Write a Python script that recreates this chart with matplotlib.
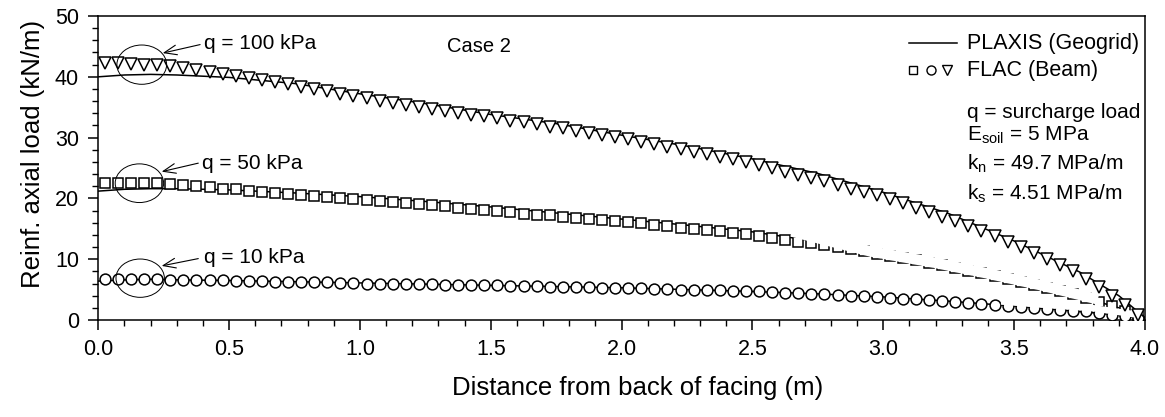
import matplotlib
matplotlib.use("Agg")
import matplotlib.pyplot as plt
from matplotlib.patches import Ellipse

plt.rcParams["font.family"] = ["Liberation Sans", "DejaVu Sans"]
plt.rcParams["mathtext.fontset"] = "custom"
plt.rcParams["mathtext.rm"] = "Liberation Sans"
plt.rcParams["mathtext.it"] = "Liberation Sans"

# PLAXIS (Geogrid) curves
plaxis_x = [0.0, 0.1, 0.2, 0.3, 0.5, 0.75, 1.0, 1.25, 1.5, 1.75, 2.0, 2.25,
            2.5, 2.75, 3.0, 3.25, 3.5, 3.75, 3.9, 4.0]
plaxis_100 = [40.0, 40.3, 40.4, 40.3, 39.9, 38.9, 37.2, 35.6, 33.8, 32.3, 30.4, 28.6,
              26.5, 24.1, 21.0, 17.5, 13.0, 7.9, 4.0, 0.4]
plaxis_50 = [21.2, 21.5, 21.6, 21.6, 21.4, 20.9, 20.3, 19.5, 18.6, 17.6, 16.6, 15.6,
             14.5, 12.9, 11.0, 8.9, 6.6, 3.9, 2.0, 0.3]
plaxis_10 = [6.4, 6.6, 6.7, 6.6, 6.5, 6.3, 6.1, 5.9, 5.7, 5.5, 5.3, 5.0,
             4.7, 4.3, 3.8, 3.1, 2.3, 1.4, 0.8, 0.2]

# FLAC (Beam) points
flac_x = [0.025 + 0.05 * i for i in range(80)]
flac_100 = [42.2, 42.2, 42.1, 42.0, 41.9, 41.7, 41.4, 41.1, 40.8, 40.5,
            40.1, 39.8, 39.5, 39.1, 38.8, 38.4, 38.0, 37.6, 37.2, 36.8,
            36.5, 36.1, 35.7, 35.4, 35.0, 34.7, 34.4, 34.1, 33.8, 33.5,
            33.2, 32.8, 32.5, 32.2, 31.8, 31.5, 31.1, 30.8, 30.4, 30.1,
            29.7, 29.3, 28.9, 28.5, 28.1, 27.7, 27.3, 26.8, 26.4, 26.0,
            25.5, 25.0, 24.4, 23.9, 23.3, 22.8, 22.2, 21.6, 21.0, 20.5,
            19.9, 19.2, 18.5, 17.8, 17.0, 16.3, 15.5, 14.7, 13.8, 12.9,
            12.0, 11.1, 10.1, 9.1, 8.0, 6.8, 5.5, 4.0, 2.5, 0.8]
flac_50 = [22.6, 22.6, 22.6, 22.6, 22.5, 22.4, 22.2, 22.0, 21.8, 21.6,
           21.5, 21.3, 21.1, 20.9, 20.8, 20.6, 20.4, 20.2, 20.1, 19.9,
           19.7, 19.5, 19.4, 19.2, 19.0, 18.9, 18.7, 18.5, 18.3, 18.1,
           17.9, 17.7, 17.5, 17.3, 17.2, 17.0, 16.8, 16.6, 16.4, 16.3,
           16.1, 15.9, 15.7, 15.5, 15.2, 15.0, 14.8, 14.6, 14.3, 14.1,
           13.8, 13.5, 13.2, 12.9, 12.6, 12.3, 12.0, 11.6, 11.3, 10.9,
           10.6, 10.2, 9.8, 9.4, 9.0, 8.6, 8.1, 7.7, 7.2, 6.8,
           6.3, 5.8, 5.3, 4.8, 4.2, 3.6, 3.0, 2.3, 1.5, 0.6]
flac_10 = [6.7, 6.7, 6.7, 6.7, 6.7, 6.6, 6.6, 6.5, 6.5, 6.5,
           6.4, 6.4, 6.4, 6.3, 6.3, 6.3, 6.2, 6.2, 6.1, 6.1,
           6.0, 6.0, 6.0, 5.9, 5.9, 5.9, 5.8, 5.8, 5.8, 5.7,
           5.7, 5.6, 5.6, 5.6, 5.5, 5.5, 5.4, 5.4, 5.3, 5.3,
           5.2, 5.2, 5.1, 5.1, 5.0, 5.0, 4.9, 4.9, 4.8, 4.7,
           4.7, 4.6, 4.5, 4.4, 4.3, 4.2, 4.1, 4.0, 3.9, 3.8,
           3.7, 3.5, 3.4, 3.3, 3.1, 3.0, 2.8, 2.7, 2.5, 2.3,
           2.2, 2.0, 1.8, 1.6, 1.5, 1.4, 1.2, 0.9, 0.6, 0.3]

# white bands that hide parts of the symbols in the original figure
mask_sq_x = [2.65, 2.8, 2.95, 3.2, 3.4, 3.6, 3.82]
mask_sq_y = [14.57, 12.93, 11.3, 9.4, 7.65, 5.75, 3.4]
mask_ci_x = [3.45, 3.6, 3.8, 3.99]
mask_ci_y = [3.05, 2.55, 1.95, 0.75]

labels = ["q = 100 kPa", "q = 50 kPa", "q = 10 kPa"]
label_xy = [(0.405, 45.5), (0.395, 25.8), (0.404, 10.3)]
arrow_tip = [(0.246, 43.9), (0.242, 24.4), (0.242, 8.9)]
arrow_tail = [(0.389, 45.3), (0.382, 25.8), (0.382, 10.1)]
ellipses = [(0.166, 42.0, 0.19, 6.46), (0.157, 22.5, 0.185, 6.36), (0.16, 6.88, 0.185, 6.3)]

fig = plt.figure(figsize=(11.65, 4.17), dpi=100)
ax = fig.add_axes([0.0844, 0.2326, 0.8984, 0.729])

lw = 1.1
ax.plot(plaxis_x, plaxis_50, color="black", lw=lw, zorder=2)
ax.plot(plaxis_x, plaxis_10, color="black", lw=lw, zorder=2)
ax.plot(flac_x, flac_50, ls="none", marker="s", ms=7.5, mfc="white", mec="black", mew=1.1, zorder=3)
ax.plot(flac_x, flac_10, ls="none", marker="o", ms=7.8, mfc="white", mec="black", mew=1.1, zorder=3)
ax.plot(mask_sq_x, mask_sq_y, color="white", lw=7.6, solid_capstyle="butt", zorder=4)
ax.plot(mask_ci_x, mask_ci_y, color="white", lw=4.7, solid_capstyle="butt", zorder=4)
ax.plot(plaxis_x, plaxis_100, color="black", lw=lw, zorder=5)
ax.plot(flac_x, flac_100, ls="none", marker="v", ms=8.5, mfc="white", mec="black", mew=1.1, zorder=6)

for (ex, ey, ew, eh) in ellipses:
    ax.add_patch(Ellipse((ex, ey), ew, eh, fill=False, ec="black", lw=0.7, zorder=7))
for lab, xy, tip, tail in zip(labels, label_xy, arrow_tip, arrow_tail):
    ax.annotate("", xy=tip, xytext=tail,
                arrowprops=dict(arrowstyle="->,head_length=0.9,head_width=0.35",
                                lw=0.8, color="black", shrinkA=0, shrinkB=0,
                                mutation_scale=10), zorder=7)
    ax.text(xy[0], xy[1], lab, fontsize=15, va="center", ha="left")

ax.text(0.333, 0.899, "Case 2", transform=ax.transAxes, fontsize=14.5, va="center", ha="left")

# legend drawn by hand
ax.plot([0.7743, 0.8202], [0.910, 0.910], color="black", lw=lw, transform=ax.transAxes, clip_on=False)
ax.text(0.8297, 0.910, "PLAXIS (Geogrid)", transform=ax.transAxes, fontsize=15.5, va="center")
for mx, mk, ms in [(0.7787, "s", 6.0), (0.7953, "o", 6.5), (0.8111, "v", 6.5)]:
    ax.plot([mx], [0.822], marker=mk, ms=ms, mfc="white", mec="black", mew=1.0,
            transform=ax.transAxes, clip_on=False)
ax.text(0.8297, 0.822, "FLAC (Beam)", transform=ax.transAxes, fontsize=15.5, va="center")

params = ["q = surcharge load", r"E$_{\rm soil}$ = 5 MPa", r"k$_{\rm n}$ = 49.7 MPa/m", r"k$_{\rm s}$ = 4.51 MPa/m"]
params_y = [0.666, 0.589, 0.493, 0.395]
for t, py in zip(params, params_y):
    ax.text(0.8297, py, t, transform=ax.transAxes, fontsize=15, va="baseline")

ax.set_xlim(0, 4.0)
ax.set_ylim(0, 50)
ax.set_xticks([0.0, 0.5, 1.0, 1.5, 2.0, 2.5, 3.0, 3.5, 4.0])
ax.set_xticklabels(["0.0", "0.5", "1.0", "1.5", "2.0", "2.5", "3.0", "3.5", "4.0"])
ax.set_xticks([i * 0.1 for i in range(41)], minor=True)
ax.set_yticks([0, 10, 20, 30, 40, 50])
ax.set_yticks(list(range(0, 51, 2)), minor=True)
ax.tick_params(which="major", direction="out", length=7, width=1.1, labelsize=15.5, pad=7)
ax.tick_params(which="minor", direction="out", length=4, width=1.0)
for s in ax.spines.values():
    s.set_linewidth(1.1)

ax.set_xlabel("Distance from back of facing (m)", fontsize=18.5)
ax.set_ylabel("Reinf. axial load (kN/m)", fontsize=18.5)
ax.xaxis.set_label_coords(0.515, -0.185)
ax.yaxis.set_label_coords(-0.051, 0.545)

fig.savefig("out.png", dpi=100)
